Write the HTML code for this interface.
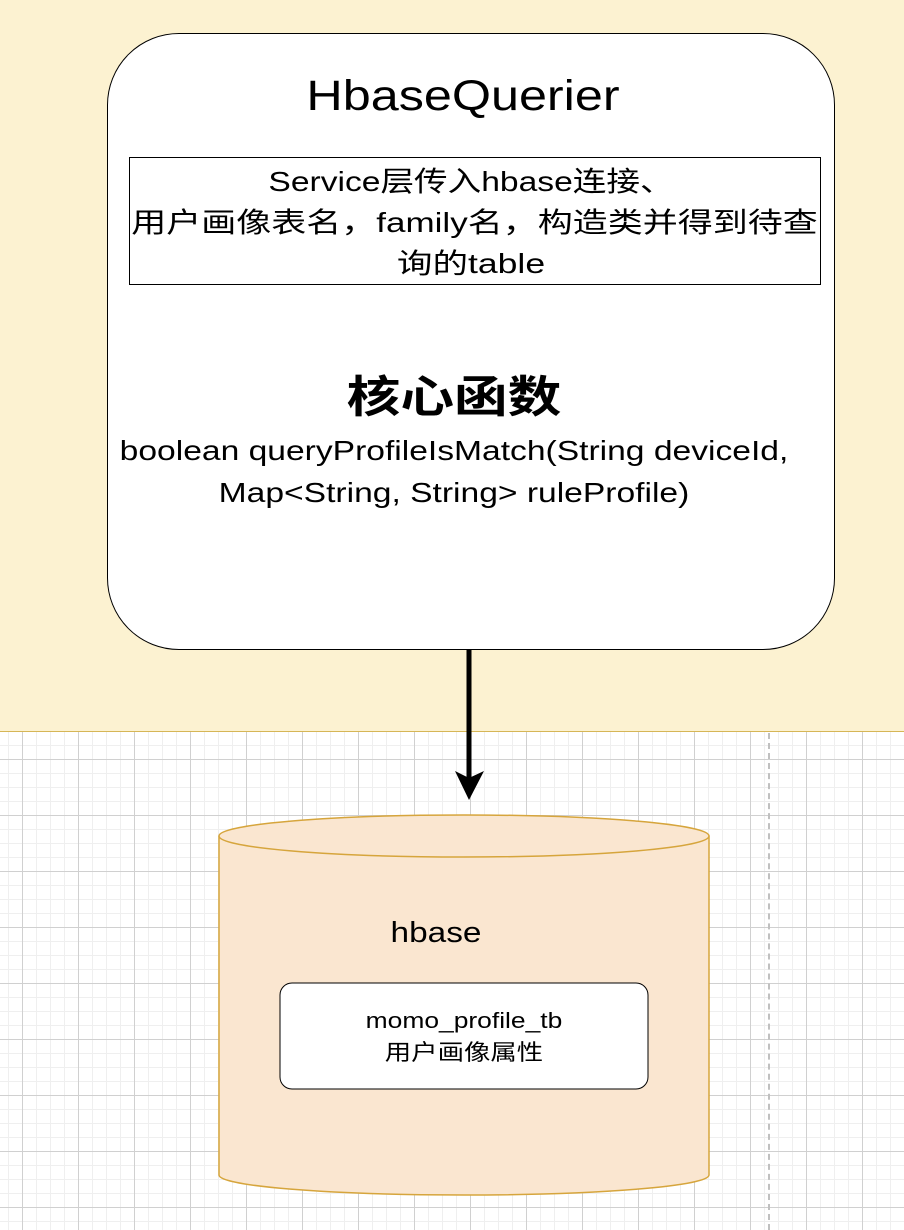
<!DOCTYPE html>
<html><head><meta charset="utf-8"><style>
body{margin:0;width:904px;height:1230px;overflow:hidden;position:relative;font-family:"Liberation Sans","Noto Sans CJK SC",sans-serif;background:#fff}
.grid{position:absolute;left:0;top:732px;width:904px;height:498px;
background-image:
linear-gradient(to right,#d0d0d0 1px,transparent 1px),
linear-gradient(to bottom,#d0d0d0 1px,transparent 1px),
linear-gradient(to right,#efefef 1px,transparent 1px),
linear-gradient(to bottom,#efefef 1px,transparent 1px);
background-size:56px 56px,56px 56px,14px 14px,14px 14px;
background-position:22px 27px,22px 27px,8px -1px,8px -1px}
.yellow{position:absolute;left:0;top:0;width:904px;height:732px;background:#fcf2d1;border-bottom:1px solid #d6b656;box-sizing:border-box}
.dash{position:absolute;left:768px;top:733px;height:497px;border-left:2px dashed #c0c0c0}
.main{position:absolute;left:107px;top:33px;width:728px;height:617px;background:#fff;border:1.5px solid #000;border-radius:72px;box-sizing:border-box}
.t{position:absolute;white-space:nowrap;text-align:center;color:#000;transform:scaleX(1.2);transform-origin:center}
.box{position:absolute;left:129px;top:157px;width:692px;height:128px;border:1px solid #000;box-sizing:border-box}
</style></head><body>
<div class="yellow"></div>
<div class="grid"></div>
<div class="dash"></div>
<div class="main"></div>
<div class="t" style="left:107px;width:712px;top:68px;font-size:43px;line-height:56px;transform:scaleX(1.17)">HbaseQuerier</div>
<div class="box"></div>
<div class="t" style="left:107px;width:728px;top:161px;font-size:28px;line-height:41px">Service层传入hbase连接、</div>
<div class="t" style="left:107px;width:735px;top:202px;font-size:28px;line-height:41px;transform:scaleX(1.25)">用户画像表名，family名，构造类并得到待查</div>
<div class="t" style="left:107px;width:728px;top:243px;font-size:28px;line-height:41px;transform:scaleX(1.27)">询的table</div>
<div class="t" style="left:90px;width:728px;top:370px;font-size:44px;line-height:56px;font-weight:bold;transform:scaleX(1.22)">核心函数</div>
<div class="t" style="left:74px;width:760px;top:430px;font-size:28px;line-height:42px">boolean queryProfileIsMatch(String deviceId,<br>Map&lt;String, String&gt; ruleProfile)</div>
<svg style="position:absolute;left:0;top:0" width="904" height="1230">
<line x1="469" y1="650" x2="469" y2="780" stroke="#000" stroke-width="5"/>
<polygon points="455,771 469,778 484,771 469,800" fill="#000"/>
<path d="M219,836 L219,1175 A245,20 0 0 0 709,1175 L709,836" fill="#fae6d0" stroke="#d6a53c" stroke-width="1.5"/>
<ellipse cx="464" cy="836" rx="245" ry="21" fill="#fae6d0" stroke="#d6a53c" stroke-width="1.5"/>
<rect x="280" y="983" width="368" height="106" rx="12" fill="#fff" stroke="#000" stroke-width="1"/>
</svg>
<div class="t" style="left:191px;width:490px;top:914px;font-size:29px;line-height:38px;transform:scaleX(1.15)">hbase</div>
<div class="t" style="left:280px;width:368px;top:1005px;font-size:22px;line-height:32px">momo_profile_tb<br>用户画像属性</div>
</body></html>
